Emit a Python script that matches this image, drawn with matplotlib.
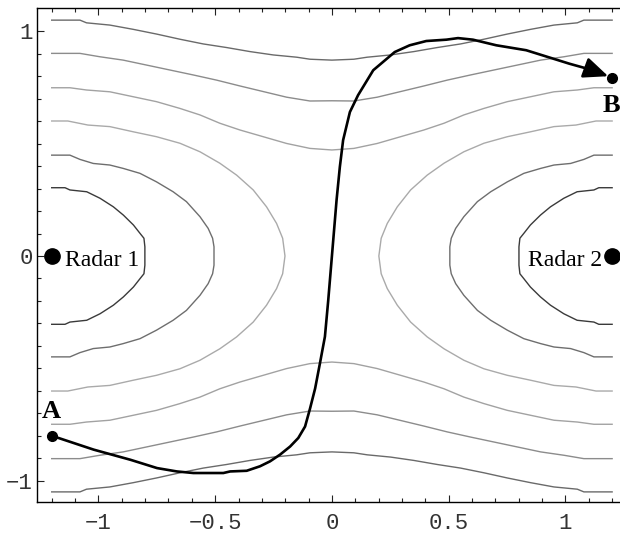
import numpy as np
import matplotlib.pyplot as plt

# --- data ---
# contour curves, upper-left quarter only (figure is symmetric in x and y)
# closed curves around Radar 1 (upper half, from left edge to y=0)
ring1_x = [-1.2, -1.143, -1.122, -1.050, -0.993, -0.936, -0.893, -0.850, -0.822, -0.805, -0.801, -0.801]
ring1_y = [0.304, 0.304, 0.294, 0.286, 0.257, 0.219, 0.182, 0.138, 0.101, 0.079, 0.041, 0.0]
ring2_x = [-1.2, -1.122, -1.079, -1.022, -0.951, -0.894, -0.822, -0.751, -0.680, -0.623, -0.565, -0.530, -0.511, -0.505, -0.505]
ring2_y = [0.449, 0.449, 0.430, 0.412, 0.405, 0.390, 0.368, 0.330, 0.286, 0.242, 0.175, 0.123, 0.079, 0.041, 0.0]
ring3_x = [-1.2, -1.131, -1.045, -0.951, -0.851, -0.751, -0.651, -0.565, -0.480, -0.408, -0.337, -0.280, -0.237, -0.211, -0.201]
ring3_y = [0.601, 0.601, 0.583, 0.576, 0.553, 0.531, 0.502, 0.464, 0.413, 0.360, 0.294, 0.219, 0.145, 0.079, 0.0]
# open curves running across the top (left half, from left edge to x=0)
band1_x = [-1.2, -1.122, -1.051, -0.951, -0.851, -0.751, -0.651, -0.565, -0.480, -0.394, -0.294, -0.194, -0.094, 0.0]
band1_y = [0.749, 0.749, 0.739, 0.731, 0.709, 0.687, 0.657, 0.628, 0.591, 0.561, 0.531, 0.501, 0.479, 0.472]
band2_x = [-1.2, -1.079, -0.994, -0.894, -0.794, -0.694, -0.594, -0.494, -0.394, -0.294, -0.194, -0.094, 0.0]
band2_y = [0.902, 0.902, 0.887, 0.872, 0.850, 0.828, 0.806, 0.783, 0.757, 0.732, 0.707, 0.690, 0.691]
band3_x = [-1.2, -1.079, -1.051, -0.951, -0.851, -0.751, -0.651, -0.551, -0.451, -0.351, -0.251, -0.151, -0.094, 0.0]
band3_y = [1.050, 1.050, 1.038, 1.028, 1.009, 0.988, 0.965, 0.944, 0.928, 0.910, 0.895, 0.885, 0.876, 0.872]

# trajectory from A to B
path_x = [-1.20, -1.02, -0.863, -0.749, -0.664, -0.593, -0.465, -0.436, -0.365, -0.308, -0.265,
          -0.222, -0.179, -0.144, -0.115, -0.094, -0.072, -0.051, -0.030, -0.016, -0.004, 0.008,
          0.020, 0.034, 0.048, 0.077, 0.112, 0.177, 0.269, 0.333, 0.404, 0.490, 0.540, 0.604,
          0.704, 0.832, 1.017, 1.10]
path_y = [-0.80, -0.862, -0.907, -0.944, -0.959, -0.966, -0.966, -0.959, -0.956, -0.936, -0.914,
          -0.884, -0.848, -0.810, -0.759, -0.680, -0.590, -0.476, -0.359, -0.200, -0.050, 0.100,
          0.250, 0.397, 0.516, 0.641, 0.716, 0.827, 0.908, 0.938, 0.957, 0.963, 0.970, 0.963,
          0.938, 0.916, 0.856, 0.832]
point_a = (-1.2, -0.8)
point_b = (1.2, 0.794)
radars = [(-1.2, 0.0, 'Radar 1'), (1.2, 0.0, 'Radar 2')]

x_ticks = [-1, -0.5, 0, 0.5, 1]
x_labels = ['\u22121', '\u22120.5', '0', '0.5', '1']
y_ticks = [-1, 0, 1]
y_labels = ['\u22121', '0', '1']

ring_colors = ['#3a3a3a', '#6e6e6e', '#aaaaaa']
band_colors = ['#a2a2a2', '#8c8c8c', '#6a6a6a']

fig = plt.figure(figsize=(6.2, 5.34), dpi=100)
ax = fig.add_axes([37 / 620, 32 / 534, 584 / 620, 494 / 534])

# rings around both radars
for (rx, ry), col in zip([(ring1_x, ring1_y), (ring2_x, ring2_y), (ring3_x, ring3_y)], ring_colors):
    rx = np.array(rx)
    ry = np.array(ry)
    fx = np.concatenate([rx, rx[::-1]])
    fy = np.concatenate([ry, -ry[::-1]])
    ax.plot(fx, fy, color=col, lw=1.0)
    ax.plot(-fx, fy, color=col, lw=1.0)

# bands above and below
for (bx, by), col in zip([(band1_x, band1_y), (band2_x, band2_y), (band3_x, band3_y)], band_colors):
    bx = np.array(bx)
    by = np.array(by)
    fx = np.concatenate([bx, -bx[::-1]])
    fy = np.concatenate([by, by[::-1]])
    ax.plot(fx, fy, color=col, lw=1.0)
    ax.plot(fx, -fy, color=col, lw=1.0)

# trajectory
ax.plot(path_x, path_y, color='black', lw=1.9, solid_capstyle='round')
ax.annotate('', xy=point_b, xytext=(path_x[-1], path_y[-1]),
            arrowprops=dict(arrowstyle='-|>,head_length=0.75,head_width=0.32', color='black',
                            lw=1.9, shrinkA=0, shrinkB=3, mutation_scale=20))
ax.plot([point_a[0], point_b[0]], [point_a[1], point_b[1]], 'o', color='black', ms=7, clip_on=False)

serif = ['Liberation Serif', 'DejaVu Serif']
ax.text(point_a[0], -0.72, 'A', ha='center', va='baseline', fontsize=19, fontweight='bold', family=serif)
ax.text(point_b[0] - 0.005, 0.64, 'B', ha='center', va='baseline', fontsize=19, fontweight='bold', family=serif)

for rx, ry, name in radars:
    ax.plot(rx, ry, 'o', color='black', ms=11, clip_on=False)
    if rx < 0:
        ax.text(rx + 0.055, -0.045, name, ha='left', va='baseline', fontsize=17, family=serif)
    else:
        ax.text(rx - 0.042, -0.045, name, ha='right', va='baseline', fontsize=17, family=serif)

ax.set_xlim(-1.263, 1.238)
ax.set_ylim(-1.095, 1.104)

ax.set_xticks(x_ticks)
ax.set_xticklabels(x_labels)
ax.set_yticks(y_ticks)
ax.set_yticklabels(y_labels)
ax.set_xticks(np.round(np.arange(-1.2, 1.21, 0.1), 2), minor=True)
ax.set_yticks(np.round(np.arange(-1.0, 1.01, 0.1), 2), minor=True)
ax.tick_params(which='both', direction='in', top=True, right=False, width=0.8, color='#222222')
ax.tick_params(which='major', length=5)
ax.tick_params(which='minor', length=3)
ax.tick_params(axis='x', which='major', pad=8)
ax.tick_params(axis='y', which='major', pad=3)
for lab in ax.get_xticklabels() + ax.get_yticklabels():
    lab.set_fontfamily(['Liberation Mono', 'DejaVu Sans Mono'])
    lab.set_fontsize(16)
    lab.set_color('#333333')
for sp in ax.spines.values():
    sp.set_linewidth(1.0)

fig.savefig('out.png', dpi=100)
